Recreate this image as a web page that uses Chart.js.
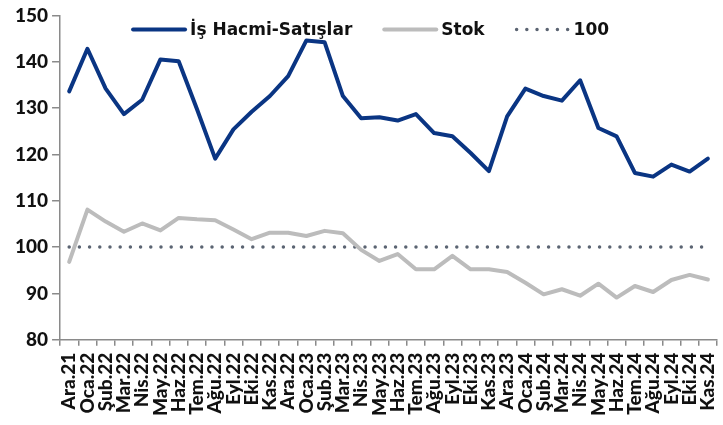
<!DOCTYPE html>
<html>
<head>
<meta charset="utf-8">
<script src="https://cdn.jsdelivr.net/npm/chart.js@4/dist/chart.umd.min.js"></script>
<style>
  html,body{margin:0;padding:0;background:#fff;}
  #wrap{width:723px;height:425px;}
</style>
</head>
<body>
<div id="wrap"><canvas id="chart"></canvas></div>
<script>
const months=["Ara.21","Oca.22","Şub.22","Mar.22","Nis.22","May.22","Haz.22","Tem.22","Ağu.22","Eyl.22","Eki.22","Kas.22",
  "Ara.22","Oca.23","Şub.23","Mar.23","Nis.23","May.23","Haz.23","Tem.23","Ağu.23","Eyl.23","Eki.23","Kas.23",
  "Ara.23","Oca.24","Şub.24","Mar.24","Nis.24","May.24","Haz.24","Tem.24","Ağu.24","Eyl.24","Eki.24","Kas.24"];

const isHacmi=[133.6,142.8,134.2,128.7,131.8,140.5,140.1,129.8,119.1,125.4,129.2,132.6,
  136.9,144.6,144.2,132.6,127.8,128.0,127.3,128.7,124.6,123.9,120.3,116.4,
  128.2,134.2,132.6,131.6,136.0,125.7,123.9,116.0,115.2,117.8,116.3,119.1];

const stok=[96.8,108.1,105.5,103.3,105.1,103.6,106.3,106.0,105.8,103.8,101.7,103.1,
  103.1,102.4,103.5,103.0,99.4,97.0,98.5,95.2,95.2,98.1,95.2,95.2,
  94.6,92.3,89.8,90.9,89.5,92.1,89.1,91.6,90.3,92.9,94.0,93.0];

const ref100=months.map(()=>100);

const yTicks=[80,90,100,110,120,130,140,150];

const tickFont="Lato, 'Noto Sans', sans-serif";
const legendFont="bold 17px 'DejaVu Sans', sans-serif";

// legend drawn inside the plot, one row at the top
const insideLegend={
  id:"insideLegend",
  afterDraw(chart){
    const c=chart.ctx;
    const area=chart.chartArea;
    let x=area.left+73;
    const y=area.top+14;
    c.save();
    c.font=legendFont;
    c.textBaseline="middle";
    chart.data.datasets.forEach(ds=>{
      c.beginPath();
      c.strokeStyle=ds.borderColor;
      c.lineWidth=ds.borderWidth;
      c.lineCap="round";
      c.setLineDash(ds.borderDash||[]);
      c.moveTo(x,y);
      c.lineTo(x+52,y);
      c.stroke();
      c.setLineDash([]);
      c.fillStyle="#111";
      c.fillText(ds.label,x+57,y+1);
      x+=57+c.measureText(ds.label).width+32;
    });
    c.restore();
  }
};

const ctx=document.getElementById("chart").getContext("2d");
new Chart(ctx,{
  type:"line",
  data:{
    labels:months,
    datasets:[
      {label:"İş Hacmi-Satışlar",data:isHacmi,borderColor:"#0a3583",backgroundColor:"#0a3583",
        borderWidth:4,pointRadius:0,tension:0,borderCapStyle:"round",borderJoinStyle:"round"},
      {label:"Stok",data:stok,borderColor:"#bcbcbc",backgroundColor:"#bcbcbc",
        borderWidth:4,pointRadius:0,tension:0,borderCapStyle:"round",borderJoinStyle:"round"},
      {label:"100",data:ref100,borderColor:"#5b6472",backgroundColor:"#5b6472",
        borderWidth:3.5,pointRadius:0,borderDash:[0,10.2],borderCapStyle:"round"}
    ]
  },
  options:{
    responsive:true,
    maintainAspectRatio:false,
    animation:false,
    layout:{padding:{left:11,right:6,top:0,bottom:2}},
    plugins:{
      legend:{display:false},
      tooltip:{enabled:false}
    },
    scales:{
      x:{
        offset:true,
        afterFit:scale=>{scale.paddingRight=0;},
        grid:{offset:true,drawOnChartArea:false,drawTicks:true,tickLength:6,color:"#8a8a8a",lineWidth:1.5},
        border:{display:true,color:"#8a8a8a",width:1.5},
        ticks:{autoSkip:false,maxRotation:90,minRotation:90,padding:7,color:"#111",
          font:{family:tickFont,size:19,weight:900}}
      },
      y:{
        min:80,max:150,
        afterBuildTicks:axis=>{axis.ticks=yTicks.map(v=>({value:v}));},
        grid:{drawOnChartArea:false,drawTicks:true,tickLength:8,color:"#8a8a8a",lineWidth:1.5},
        border:{display:true,color:"#8a8a8a",width:1.5},
        ticks:{padding:4,color:"#111",font:{family:tickFont,size:19,weight:900}}
      }
    }
  },
  plugins:[insideLegend]
});
</script>
</body>
</html>
